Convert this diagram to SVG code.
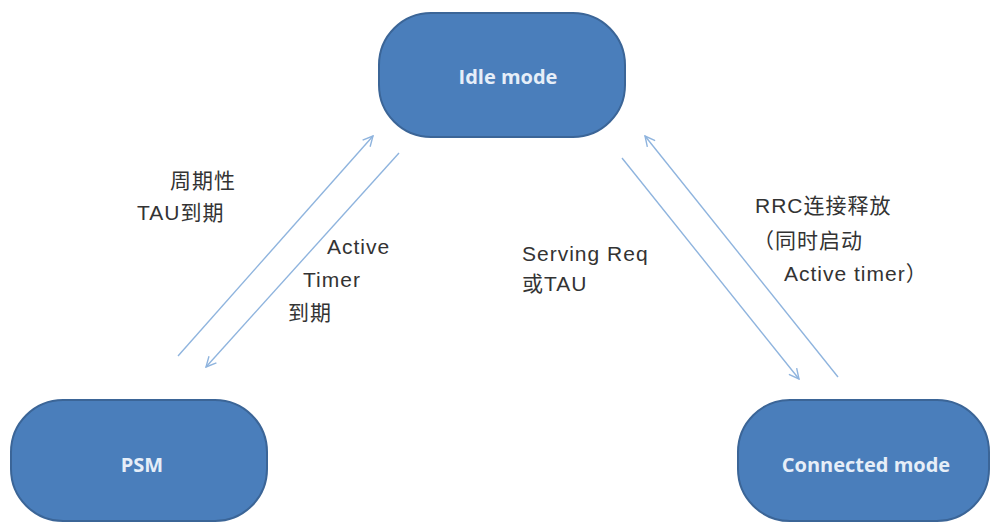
<svg xmlns="http://www.w3.org/2000/svg" width="992" height="523" viewBox="0 0 992 523">
<style>
.node{fill:#4a7ebb;stroke:#3b6597;stroke-width:2}
.nt{font-family:"Open Sans","Liberation Sans",sans-serif;font-weight:bold;font-size:20px;fill:#e6eef8;text-anchor:middle}
.lbl{font-family:"Liberation Sans","Noto Sans CJK SC",sans-serif;font-size:21px;fill:#333333;letter-spacing:1px}
.conn{stroke:#8fb4de;stroke-width:1.4;fill:none;marker-end:url(#ah)}
</style>
<defs>
<marker id="ah" viewBox="0 0 12 12" refX="11" refY="6" markerWidth="12" markerHeight="12" markerUnits="userSpaceOnUse" orient="auto">
<path d="M1,1 L11,6 L1,11" fill="none" stroke="#8fb4de" stroke-width="1.4"/>
</marker>
</defs>
<rect width="992" height="523" fill="#ffffff"/>
<g id="idle">
<rect class="node" x="379" y="13" width="246" height="124" rx="52"/>
<text class="nt" x="508" y="84">Idle mode</text>
</g>
<g id="psm">
<rect class="node" x="11" y="400" width="256" height="121" rx="52"/>
<text class="nt" x="142" y="472">PSM</text>
</g>
<g id="connected">
<rect class="node" x="738" y="400" width="251" height="121" rx="52"/>
<text class="nt" x="866" y="472" font-size="21">Connected mode</text>
</g>
<g id="connectors">
<line class="conn" x1="178" y1="356" x2="373" y2="136"/>
<line class="conn" x1="399" y1="153" x2="206" y2="367"/>
<line class="conn" x1="622" y1="158" x2="799" y2="379"/>
<line class="conn" x1="838" y1="377" x2="645" y2="136"/>
</g>
<g id="labels">
<text class="lbl" x="170" y="188">周期性</text>
<text class="lbl" x="137" y="220">TAU到期</text>
<text class="lbl" x="327" y="254">Active</text>
<text class="lbl" x="303" y="287">Timer</text>
<text class="lbl" x="288" y="320">到期</text>
<text class="lbl" x="522" y="261">Serving Req</text>
<text class="lbl" x="522" y="291">或TAU</text>
<text class="lbl" x="755" y="213">RRC连接释放</text>
<text class="lbl" x="753" y="248">（同时启动</text>
<text class="lbl" x="784" y="281">Active timer）</text>
</g>
</svg>
